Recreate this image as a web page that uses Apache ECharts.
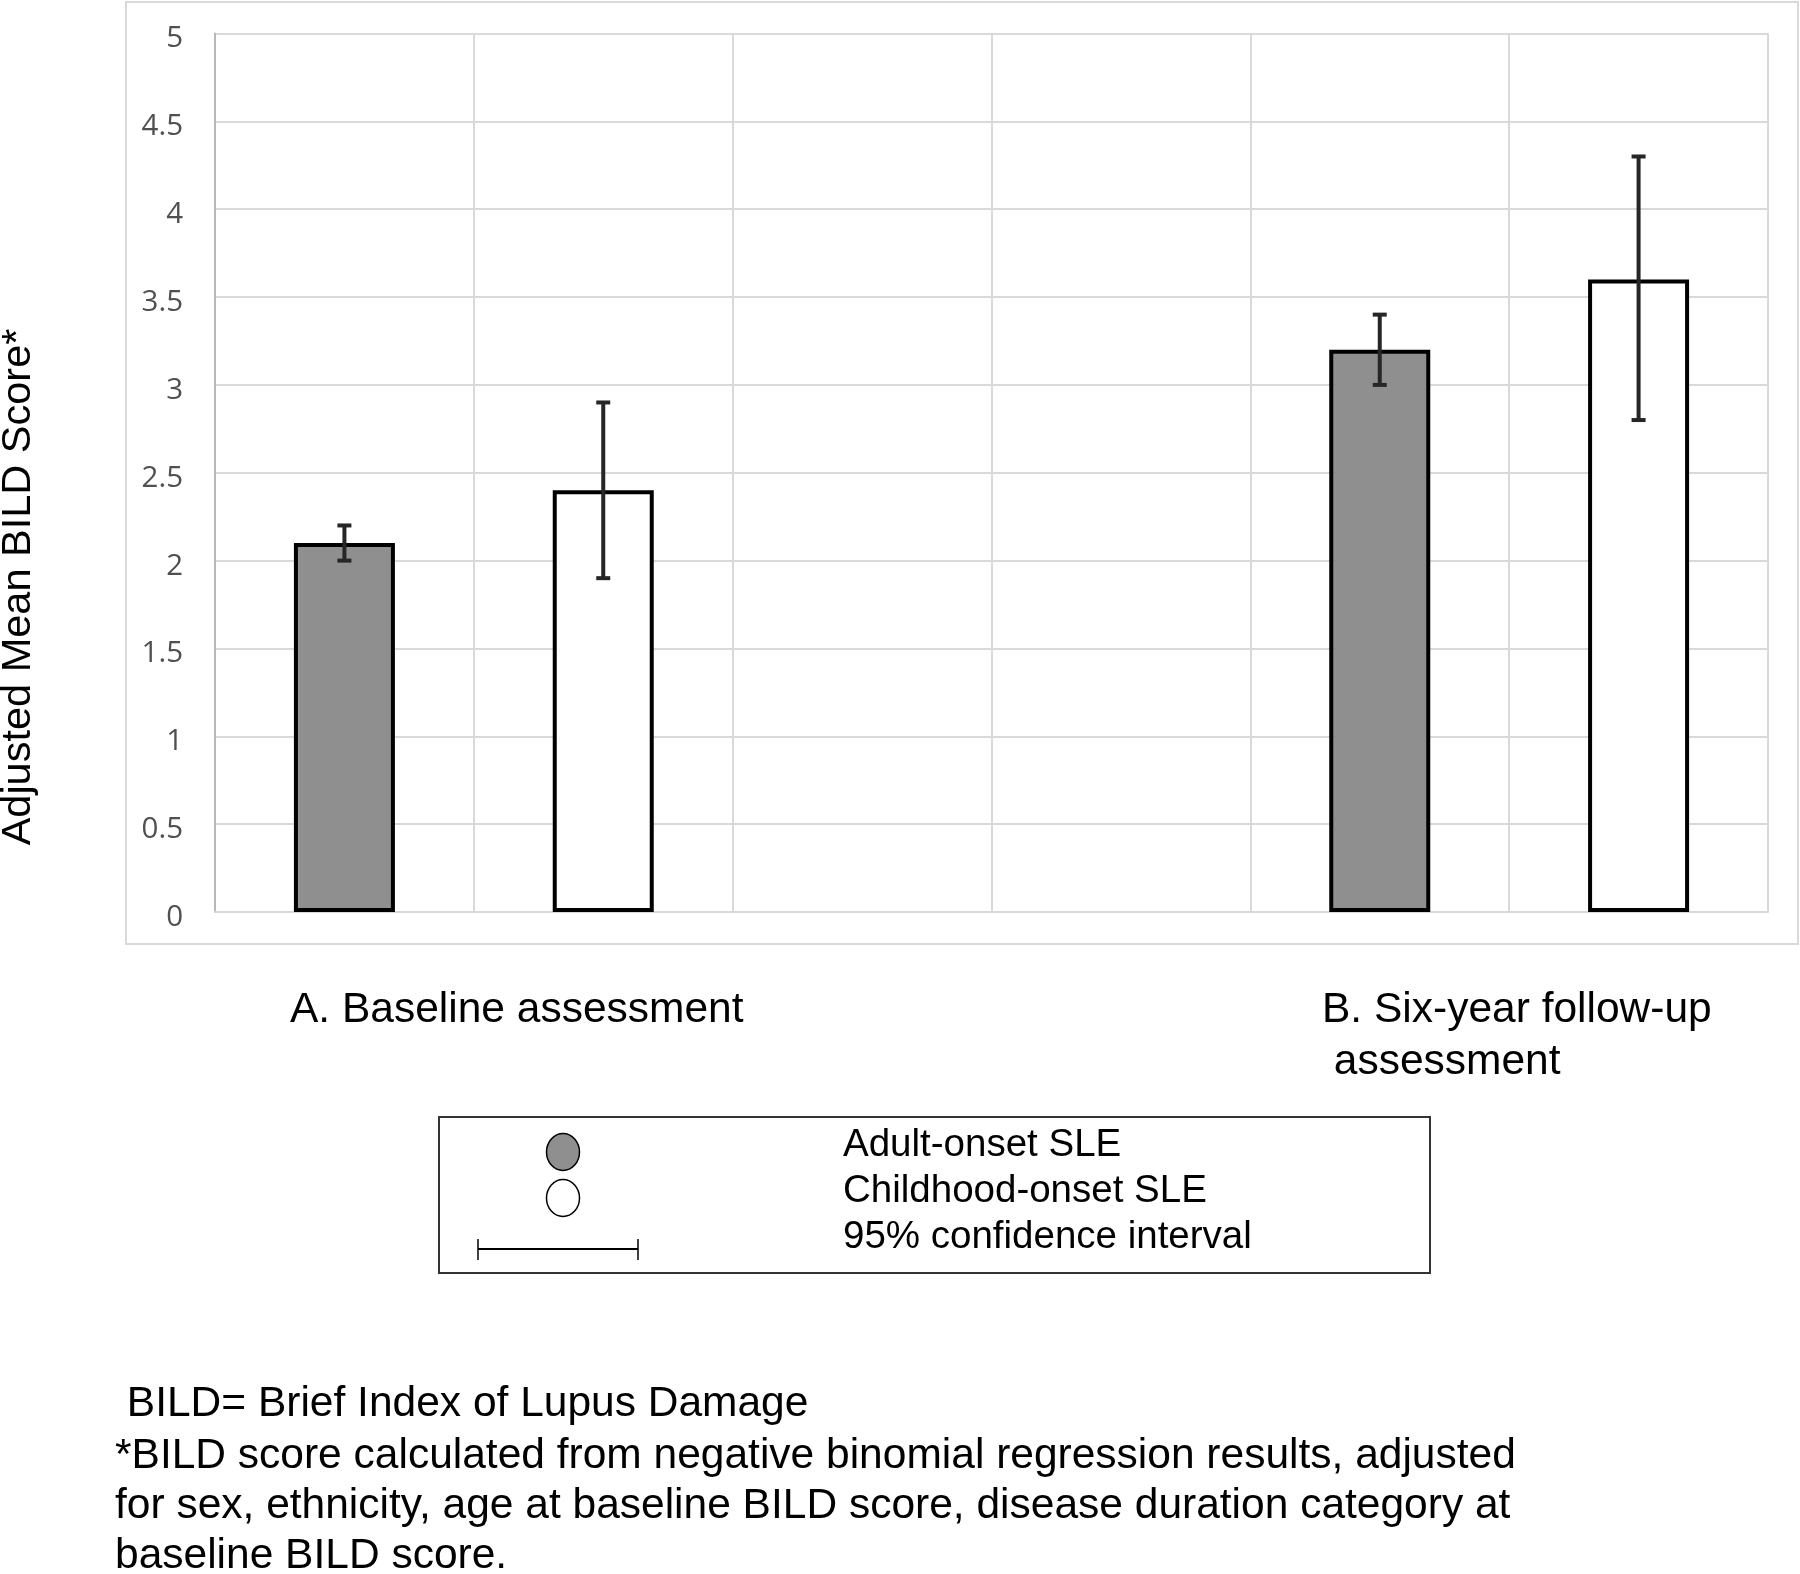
<!DOCTYPE html>
<html>
<head>
<meta charset="utf-8">
<script src="https://cdn.jsdelivr.net/npm/echarts@6/dist/echarts.min.js"></script>
<style>
html,body{margin:0;padding:0;background:#fff;}
#chart{width:1800px;height:1574px;}
</style>
</head>
<body>
<div id="chart"></div>
<script>
// ---- data ----
const categories = ['A-adult', 'A-child', 'gap-1', 'gap-2', 'B-adult', 'B-child'];
const adultMeans = [2.1, null, null, null, 3.2, null];
const childMeans = [null, 2.4, null, null, null, 3.6];
const ciLow  = [2.0, 1.9, null, null, 3.0, 2.8];
const ciHigh = [2.2, 2.9, null, null, 3.4, 4.3];
const yTicks = { min: 0, max: 5, interval: 0.5 };
const groupLabels = ['A. Baseline assessment', 'B. Six-year follow-up', ' assessment'];
const legendLabels = ['Adult-onset SLE', 'Childhood-onset SLE', '95% confidence interval'];
const yTitle = 'Adjusted Mean BILD Score*';
const footnotes = [
  ' BILD= Brief Index of Lupus Damage',
  '*BILD score calculated from negative binomial regression results, adjusted',
  'for sex, ethnicity, age at baseline BILD score, disease duration category at',
  'baseline BILD score.'
];

const errData = categories.map((c, i) => [i, ciLow[i], ciHigh[i]]).filter(d => d[1] != null);

const chart = echarts.init(document.getElementById('chart'));
const arial = 'Liberation Sans, Arial, sans-serif';

function txt(x, y, text, size, extra) {
  return Object.assign({
    type: 'text', x: x, y: y,
    style: { text: text, font: size + 'px ' + arial, fill: '#000', align: 'left', verticalAlign: 'middle' }
  }, extra || {});
}

const option = {
  animation: false,
  backgroundColor: '#ffffff',
  grid: { left: 215, right: 32, top: 33.5, bottom: 662, containLabel: false },
  xAxis: {
    type: 'category',
    data: categories,
    boundaryGap: true,
    axisLine: { show: true, lineStyle: { color: '#d9d9d9', width: 2 } },
    axisTick: { show: false },
    axisLabel: { show: false },
    splitLine: { show: true, lineStyle: { color: '#d9d9d9', width: 2 } }
  },
  yAxis: {
    type: 'value',
    min: yTicks.min, max: yTicks.max, interval: yTicks.interval,
    axisLine: { show: true, lineStyle: { color: '#b8b8b8', width: 2 } },
    axisTick: { show: false },
    axisLabel: {
      margin: 32,
      formatter: function (v) { return '{t|' + v + '}'; },
      rich: { t: { color: '#505050', fontSize: 29.5, fontFamily: 'Open Sans, sans-serif', padding: [11, 0, 0, 0] } }
    },
    splitLine: { show: true, lineStyle: { color: '#d9d9d9', width: 2 } }
  },
  series: [
    {
      name: legendLabels[0], type: 'bar', stack: 'g', data: adultMeans,
      barWidth: 101,
      itemStyle: { color: '#8f8f8f', borderColor: '#000', borderWidth: 4 }
    },
    {
      name: legendLabels[1], type: 'bar', stack: 'g', data: childMeans,
      barWidth: 101,
      itemStyle: { color: '#ffffff', borderColor: '#000', borderWidth: 4 }
    },
    {
      name: legendLabels[2], type: 'custom', z: 10,
      data: errData,
      renderItem: function (params, api) {
        const x = api.value(0);
        const lo = api.coord([x, api.value(1)]);
        const hi = api.coord([x, api.value(2)]);
        const cap = 7;
        const st = { stroke: '#262626', lineWidth: 4 };
        return {
          type: 'group',
          children: [
            { type: 'line', shape: { x1: lo[0], y1: lo[1], x2: hi[0], y2: hi[1] }, style: st },
            { type: 'line', shape: { x1: lo[0] - cap, y1: lo[1], x2: lo[0] + cap, y2: lo[1] }, style: st },
            { type: 'line', shape: { x1: hi[0] - cap, y1: hi[1], x2: hi[0] + cap, y2: hi[1] }, style: st }
          ]
        };
      }
    }
  ],
  graphic: [
    { type: 'rect', z: -10, shape: { x: 126, y: 2, width: 1672, height: 942 },
      style: { fill: 'none', stroke: '#d9d9d9', lineWidth: 2 } },
    { type: 'text', x: 19, y: 587, rotation: Math.PI / 2,
      style: { text: yTitle, font: '41.5px ' + arial, fill: '#000', align: 'center', verticalAlign: 'middle' } },
    txt(290, 1010, groupLabels[0], 42.5),
    txt(1322, 1010, groupLabels[1], 42.5),
    txt(1322, 1062, groupLabels[2], 42.5),
    // legend box
    { type: 'rect', shape: { x: 439, y: 1117, width: 991, height: 156 },
      style: { fill: '#fff', stroke: '#333', lineWidth: 2 } },
    { type: 'ellipse', shape: { cx: 563, cy: 1152, rx: 16.5, ry: 18.5 },
      style: { fill: '#8f8f8f', stroke: '#000', lineWidth: 1.5 } },
    { type: 'ellipse', shape: { cx: 563, cy: 1198, rx: 16.5, ry: 18.5 },
      style: { fill: '#ffffff', stroke: '#000', lineWidth: 1.5 } },
    { type: 'line', shape: { x1: 478, y1: 1249, x2: 638, y2: 1249 }, style: { stroke: '#000', lineWidth: 2 } },
    { type: 'line', shape: { x1: 478, y1: 1239, x2: 478, y2: 1260 }, style: { stroke: '#000', lineWidth: 1.5 } },
    { type: 'line', shape: { x1: 638, y1: 1239, x2: 638, y2: 1260 }, style: { stroke: '#000', lineWidth: 1.5 } },
    txt(843, 1145, legendLabels[0], 38.5),
    txt(843, 1191, legendLabels[1], 38.5),
    txt(843, 1237, legendLabels[2], 38.5),
    // footnotes
    txt(115, 1404, footnotes[0], 42.5),
    txt(115, 1456, footnotes[1], 42.5),
    txt(115, 1506, footnotes[2], 42.5),
    txt(115, 1556, footnotes[3], 42.5)
  ]
};
chart.setOption(option);
</script>
</body>
</html>
